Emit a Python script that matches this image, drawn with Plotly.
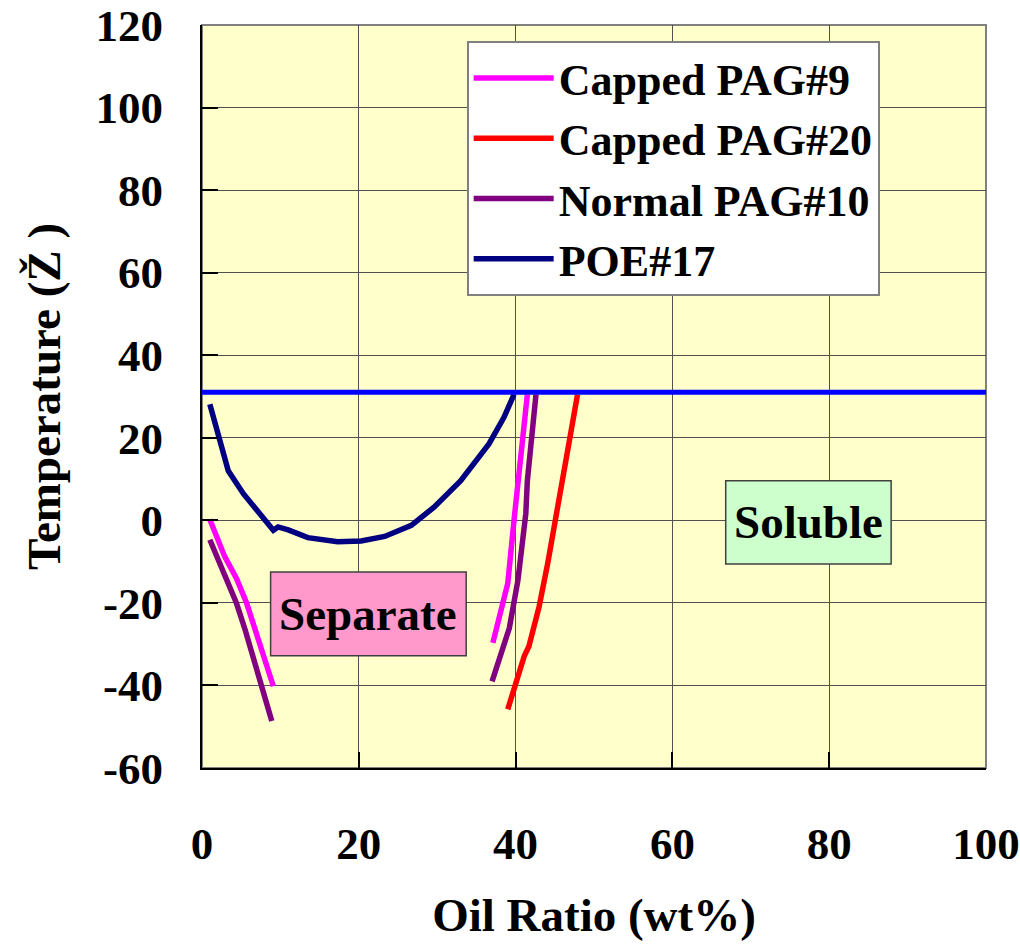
import plotly.graph_objects as go

# ---- data ----
pag9_x = [1.0, 2.9, 4.4, 5.7, 9.1, None, 37.1, 39.0, 39.8, 40.7, 41.1, 41.5]
pag9_y = [0.2, -8.8, -14.1, -20.1, -40.2, None, -29.7, -15.3, 0.0, 15.3, 24.9, 30.5]

pag20_x = [39.0, 41.1, 41.7, 43.0, 44.1, 45.1, 46.4, 47.9]
pag20_y = [-45.8, -32.9, -30.5, -20.9, -10.4, 0.0, 13.7, 30.5]

npag10_x = [1.0, 3.1, 4.4, 5.5, 8.9, None, 37.0, 39.2, 40.3, 41.3, 41.5, 42.2, 42.6]
npag10_y = [-4.7, -14.5, -20.1, -26.5, -48.6, None, -39.0, -26.1, -14.5, 1.6, 9.6, 21.7, 30.5]

poe17_x = [1.0, 2.1, 3.35, 5.3, 7.2, 9.1, 9.7, 11.0, 13.5, 17.3, 20.3, 23.3, 26.7,
           29.6, 33.0, 36.6, 38.5, 39.0, 39.8]
poe17_y = [28.1, 20.1, 12.0, 6.4, 2.0, -2.4, -1.6, -2.3, -4.2, -5.2, -5.0, -3.9, -1.2,
           3.2, 9.6, 18.5, 24.9, 27.3, 30.5]

ref_x = [0, 100]
ref_y = [31, 31]

x_ticks = [0, 20, 40, 60, 80, 100]
y_ticks = [-60, -40, -20, 0, 20, 40, 60, 80, 100, 120]

FONT = "Liberation Serif, Times New Roman, serif"

fig = go.Figure()
series = [
    ("Capped PAG#9", pag9_x, pag9_y, "#FF00FF"),
    ("Capped PAG#20", pag20_x, pag20_y, "#FF0000"),
    ("Normal PAG#10", npag10_x, npag10_y, "#800080"),
    ("POE#17", poe17_x, poe17_y, "#000080"),
]
for name, xs, ys, col in series:
    fig.add_trace(go.Scatter(x=xs, y=ys, name=name, mode="lines",
                             line=dict(color=col, width=5.5), connectgaps=False))
fig.add_trace(go.Scatter(x=ref_x, y=ref_y, mode="lines", showlegend=False,
                         line=dict(color="#0000FF", width=5), hoverinfo="skip"))

# plot-area border (grey top/right)
fig.add_shape(type="rect", xref="paper", yref="paper", x0=0, x1=1, y0=0, y1=1,
              line=dict(color="#808080", width=2), layer="below")

# region boxes
fig.add_shape(type="rect", x0=8.75, x1=33.7, y0=-32.8, y1=-12.5,
              fillcolor="#FF99CC", line=dict(color="#404040", width=1.5))
fig.add_shape(type="rect", x0=66.8, x1=87.9, y0=-10.6, y1=9.6,
              fillcolor="#CCFFCC", line=dict(color="#404040", width=1.5))
fig.add_annotation(x=(8.75 + 33.7) / 2, y=(-32.8 - 12.5) / 2, text="Separate",
                   showarrow=False, font=dict(family=FONT, size=47, color="black", weight="bold"))
fig.add_annotation(x=(66.8 + 87.9) / 2, y=(-10.6 + 9.6) / 2, text="Soluble",
                   showarrow=False, font=dict(family=FONT, size=47, color="black", weight="bold"))

axis_common = dict(showgrid=True, gridcolor="#505050", gridwidth=1,
                   showline=True, linecolor="black", linewidth=2,
                   ticks="inside", ticklen=16, tickcolor="black", tickwidth=2,
                   zeroline=False, ticklabeloverflow="allow",
                   tickfont=dict(family=FONT, size=45, color="black", weight="bold"))

fig.update_xaxes(range=[0, 100], tickvals=x_ticks, ticktext=[str(v) for v in x_ticks],
                 ticklabelstandoff=35,
                 title=dict(text="Oil Ratio (wt%)", standoff=30,
                            font=dict(family=FONT, size=47, color="black", weight="bold")),
                 **axis_common)
fig.update_yaxes(range=[-60, 120], tickvals=y_ticks, ticktext=[str(v) for v in y_ticks],
                 ticklabelstandoff=28,
                 title=dict(text="Temperature (Ž )", standoff=20,
                            font=dict(family=FONT, size=47, color="black", weight="bold")),
                 **axis_common)

fig.update_layout(
    width=1020, height=947,
    margin=dict(l=202, r=34, t=25, b=179, autoexpand=False),
    plot_bgcolor="#FFFFCC", paper_bgcolor="white",
    font=dict(family=FONT, color="black"),
    legend=dict(x=0.3376, y=0.9785, xanchor="left", yanchor="top",
                bgcolor="white", bordercolor="#808080", borderwidth=2,
                font=dict(family=FONT, size=44, color="black", weight="bold"),
                tracegroupgap=0, itemwidth=80),
    showlegend=True,
)

fig.write_html("out.html")
